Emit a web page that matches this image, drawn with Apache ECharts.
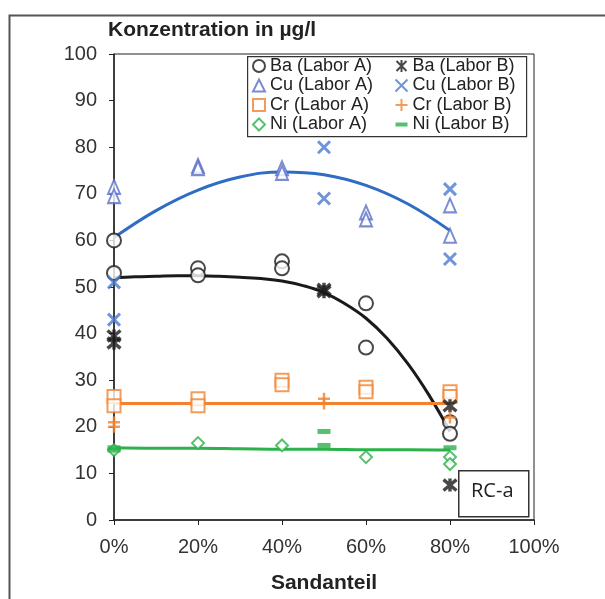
<!DOCTYPE html>
<html>
<head>
<meta charset="utf-8">
<script src="https://cdn.jsdelivr.net/npm/echarts@6/dist/echarts.min.js"></script>
<style>
  html, body { margin: 0; padding: 0; background: #fff; }
  #chart { width: 605px; height: 599px; }
</style>
</head>
<body>
<div id="chart"></div>
<script>
// Concentrations (µg/l) versus sand fraction, two laboratories
const baLaborA = [[0, 60], [0, 53], [0.2, 54], [0.2, 52.5], [0.4, 55.5], [0.4, 54], [0.6, 46.5], [0.6, 37], [0.8, 21], [0.8, 18.5]];
const baLaborB = [[0, 39.5], [0, 38], [0.5, 49.5], [0.5, 49], [0.8, 24.5], [0.8, 7.5]];
const cuLaborA = [[0, 71.5], [0, 69.5], [0.2, 76], [0.2, 75.5], [0.4, 75.5], [0.4, 74.5], [0.6, 66], [0.6, 64.5], [0.8, 67.5], [0.8, 61]];
const cuLaborB = [[0, 51], [0, 43], [0.5, 80], [0.5, 69], [0.8, 71], [0.8, 56]];
const crLaborA = [[0, 26.5], [0, 24.5], [0.2, 26], [0.2, 24.5], [0.4, 30], [0.4, 29], [0.6, 28.5], [0.6, 27.5], [0.8, 27.5], [0.8, 26.5]];
const crLaborB = [[0, 21], [0, 20], [0.5, 26], [0.5, 25], [0.8, 22]];
const niLaborA = [[0, 15], [0.2, 16.5], [0.4, 16], [0.6, 13.5], [0.8, 13.5], [0.8, 12]];
const niLaborB = [[0, 15.5], [0, 15], [0.5, 19], [0.5, 16], [0.8, 15.5]];

// Trend curves
const trendX = [0, 0.1, 0.2, 0.3, 0.4, 0.5, 0.6, 0.7, 0.8];
const cuTrend = [60.6, 66.4, 70.8, 73.6, 74.7, 74.1, 71.8, 67.8, 62.1];
const crTrend = [25, 25, 25, 25, 25, 25, 25, 25, 25];
const niTrend = [15.5, 15.4, 15.4, 15.3, 15.2, 15.2, 15.1, 15.1, 15];
const baTrendX = [0, 0.05, 0.1, 0.15, 0.2, 0.25, 0.3, 0.35, 0.4, 0.45, 0.5, 0.55, 0.6, 0.65, 0.7, 0.75, 0.8];
const baTrend = [52, 52.2, 52.3, 52.4, 52.4, 52.3, 52.1, 51.8, 51.3, 50.3, 48.8, 46.4, 43.3, 39, 33.5, 26.8, 19];

const xTicks = [0, 0.2, 0.4, 0.6, 0.8, 1];
const yTicks = [0, 10, 20, 30, 40, 50, 60, 70, 80, 90, 100];

const seriesNames = ['Ba (Labor A)', 'Cu (Labor A)', 'Cr (Labor A)', 'Ni (Labor A)',
                     'Ba (Labor B)', 'Cu (Labor B)', 'Cr (Labor B)', 'Ni (Labor B)'];

const C_BLACK = '#1a1a1a';
const C_BLUE_LINE = '#2f6cc4';
const C_TRI = '#5a6fc8';
const C_X = '#4a7ad0';
const C_ORANGE = '#f2822e';
const C_GREEN = '#2bb24a';

const pathCross = 'path://M0,0L10,10M10,0L0,10';
const pathStar = 'path://M0,0L10,10M10,0L0,10M5,-1L5,11';
const pathPlus = 'path://M5,0L5,10M0,5L10,5';
const pathDash = 'path://M0,0L12,0L12,4L0,4Z';

const zip = (xs, ys) => xs.map((x, i) => [x, ys[i]]);

function trend(xs, values, color) {
  return {
    type: 'line', data: zip(xs, values), smooth: 0.4, showSymbol: false,
    lineStyle: { color: color, width: 3 }, z: 1, silent: true, legendHoverLink: false
  };
}

const chart = echarts.init(document.getElementById('chart'), null, { renderer: 'canvas' });

const legendText = { fontFamily: 'Liberation Sans, Arial, sans-serif', fontSize: 18, color: '#222' };

chart.setOption({
  backgroundColor: '#fff',
  animation: false,
  grid: { left: 114, right: 71, top: 54, bottom: 76, show: true, borderColor: '#222', borderWidth: 1 },
  xAxis: {
    type: 'value', min: 0, max: 1, interval: 0.2,
    name: 'Sandanteil', nameLocation: 'middle', nameGap: 53,
    nameTextStyle: { fontFamily: 'Liberation Sans, Arial, sans-serif', fontSize: 21, fontWeight: 'bold', color: '#222' },
    axisLine: { lineStyle: { color: '#222', width: 1.5 } },
    axisTick: { show: true, length: 5, lineStyle: { color: '#222' } },
    axisLabel: {
      fontFamily: 'Liberation Sans, Arial, sans-serif', fontSize: 20, color: '#333', margin: 17,
      formatter: v => (xTicks.includes(Math.round(v * 10) / 10) ? Math.round(v * 100) + '%' : '')
    },
    splitLine: { show: false }
  },
  yAxis: {
    type: 'value', min: 0, max: 100, interval: 10,
    axisLine: { show: true, lineStyle: { color: '#222', width: 1.5 } },
    axisTick: { show: true, length: 5, lineStyle: { color: '#222' } },
    axisLabel: {
      fontFamily: 'Liberation Sans, Arial, sans-serif', fontSize: 20, color: '#333', margin: 17,
      formatter: v => (yTicks.includes(v) ? String(v) : '')
    },
    splitLine: { show: false }
  },
  legend: [
    {
      orient: 'vertical', left: 252, top: 57, padding: 0, itemWidth: 12, itemHeight: 12, itemGap: 1.5,
      textStyle: legendText, data: seriesNames.slice(0, 4), selectedMode: false
    },
    {
      orient: 'vertical', left: 393, top: 57, padding: 0, itemWidth: 12, itemHeight: 12, itemGap: 1.5,
      textStyle: legendText, selectedMode: false,
      data: seriesNames.slice(4, 7).concat([{ name: seriesNames[7], icon: pathDash }])
    }
  ],
  graphic: [
    // outer frame
    { type: 'rect', left: 7, top: 13, shape: { width: 700, height: 700 },
      style: { fill: 'none', stroke: '#555', lineWidth: 2 }, z: 100 },
    // title
    { type: 'text', left: 108, top: 20,
      style: { text: 'Konzentration in µg/l', font: 'bold 21px "Liberation Sans", Arial, sans-serif', fill: '#222' } },
    // legend box
    { type: 'rect', left: 247, top: 56, shape: { width: 279, height: 80 },
      style: { fill: 'rgba(255,255,255,0)', stroke: '#333', lineWidth: 1.2 }, z: 50 },
    // sample label
    { type: 'rect', left: 458, top: 470, shape: { width: 70, height: 46 },
      style: { fill: '#fff', stroke: '#333', lineWidth: 1.5 }, z: 60 },
    { type: 'text', left: 471, top: 481,
      style: { text: 'RC-a', font: '20px "Open Sans", sans-serif', fill: '#222' }, z: 61 }
  ],
  series: [
    trend(trendX, cuTrend, C_BLUE_LINE),
    trend(baTrendX, baTrend, C_BLACK),
    trend(trendX, crTrend, C_ORANGE),
    trend(trendX, niTrend, C_GREEN),
    { name: 'Ba (Labor A)', type: 'scatter', data: baLaborA, symbol: 'emptyCircle', symbolSize: 14, z: 3,
      itemStyle: { color: C_BLACK, borderColor: C_BLACK, borderWidth: 1.5 } },
    { name: 'Cu (Labor A)', type: 'scatter', data: cuLaborA, symbol: 'emptyTriangle', symbolSize: [12, 14], z: 3,
      itemStyle: { color: C_TRI, borderColor: C_TRI, borderWidth: 1.8 } },
    { name: 'Cr (Labor A)', type: 'scatter', data: crLaborA, symbol: 'emptyRect', symbolSize: 13, z: 3,
      itemStyle: { color: C_ORANGE, borderColor: C_ORANGE, borderWidth: 1.8 } },
    { name: 'Ni (Labor A)', type: 'scatter', data: niLaborA, symbol: 'emptyDiamond', symbolSize: 12, z: 3,
      itemStyle: { color: C_GREEN, borderColor: C_GREEN, borderWidth: 2.2 } },
    { name: 'Ba (Labor B)', type: 'scatter', data: baLaborB, symbol: pathStar, symbolSize: 13, z: 4,
      itemStyle: { color: 'none', borderColor: C_BLACK, borderWidth: 3.4 } },
    { name: 'Cu (Labor B)', type: 'scatter', data: cuLaborB, symbol: pathCross, symbolSize: 12, z: 4,
      itemStyle: { color: 'none', borderColor: C_X, borderWidth: 3 } },
    { name: 'Cr (Labor B)', type: 'scatter', data: crLaborB, symbol: pathPlus, symbolSize: 12, z: 4,
      itemStyle: { color: 'none', borderColor: C_ORANGE, borderWidth: 2.5 } },
    { name: 'Ni (Labor B)', type: 'scatter', data: niLaborB, symbol: 'rect', symbolSize: [13, 5], z: 4,
      itemStyle: { color: C_GREEN } }
  ]
});
</script>
</body>
</html>
